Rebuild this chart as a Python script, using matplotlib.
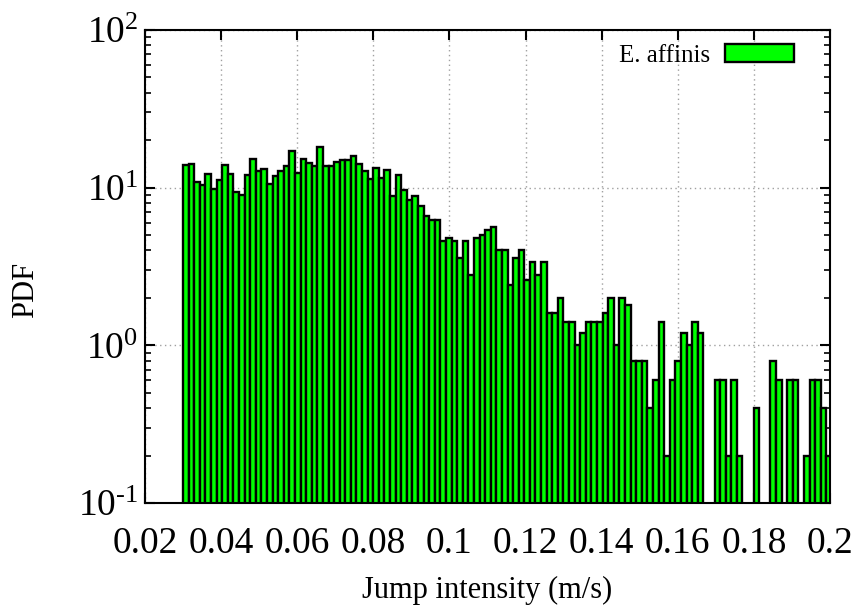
import numpy as np
import matplotlib
matplotlib.use("Agg")
import matplotlib.pyplot as plt
from matplotlib.ticker import FixedLocator, LogLocator, NullFormatter
from matplotlib.patches import Patch

# ---- data ----
bin_start = 0.0300
bin_width = 0.00147
pdf_values = [
    14.0, 14.2, 10.8, 10.4, 12.2, 9.8, 11.2, 14.0, 12.2, 9.4,
    9.0, 12.0, 15.2, 12.8, 13.2, 10.6, 11.8, 12.8, 13.8, 17.0,
    12.4, 15.2, 14.4, 13.8, 18.2, 13.8, 13.8, 14.6, 15.0, 15.0,
    15.8, 14.2, 12.8, 11.4, 13.4, 11.6, 13.0, 8.8, 12.0, 9.6,
    8.4, 8.8, 7.6, 6.6, 6.2, 6.2, 4.6, 4.8, 4.6, 3.6,
    4.6, 2.8, 4.8, 5.0, 5.4, 5.6, 4.0, 4.0, 2.4, 3.6,
    4.0, 2.6, 3.4, 2.8, 3.4, 1.6, 1.6, 2.0, 1.4, 1.4,
    1.0, 1.2, 1.4, 1.4, 1.4, 1.6, 2.0, 1.0, 2.0, 1.8,
    0.8, 0.8, 0.8, 0.4, 0.6, 1.4, 0.2, 0.6, 0.8, 1.2,
    1.0, 1.4, 1.2, 0.0, 0.0, 0.6, 0.6, 0.2, 0.6, 0.2,
    0.0, 0.0, 0.4, 0.0, 0.0, 0.8, 0.6, 0.0, 0.6, 0.6,
    0.0, 0.2, 0.6, 0.6, 0.4, 0.2,
]
x_ticks = [0.02, 0.04, 0.06, 0.08, 0.10, 0.12, 0.14, 0.16, 0.18, 0.20]
x_tick_labels = ["0.02", "0.04", "0.06", "0.08", "0.1", "0.12", "0.14", "0.16", "0.18", "0.2"]
y_ticks = [0.1, 1, 10, 100]
y_tick_labels = [r"$10^{\text{-}1}$", r"$10^{0}$", r"$10^{1}$", r"$10^{2}$"]
series_label = "E. affinis"
x_label = "Jump intensity (m/s)"
y_label = "PDF"

# ---- style ----
plt.rcParams["font.family"] = ["Liberation Serif", "DejaVu Serif"]
plt.rcParams["mathtext.fontset"] = "custom"
plt.rcParams["mathtext.rm"] = "Liberation Serif"
plt.rcParams["mathtext.it"] = "Liberation Serif:italic"

fig = plt.figure(figsize=(8.59, 6.09), dpi=100)
W, H = 859, 609
L, R, T, B = 145, 830, 30, 503
ax = fig.add_axes([L / W, 1 - B / H, (R - L) / W, (B - T) / H])

vals = np.array(pdf_values)
lefts = bin_start + np.arange(len(vals)) * bin_width
mask = vals > 0
floor = 1e-3
ax.bar(lefts[mask], vals[mask] - floor, width=bin_width, bottom=floor, align="edge",
       color="#00ff00", edgecolor="black", linewidth=1.7, zorder=2)

ax.set_yscale("log")
ax.set_xlim(0.02, 0.2)
ax.set_ylim(0.1, 100)

ax.xaxis.set_major_locator(FixedLocator(x_ticks))
ax.set_xticklabels(x_tick_labels)
ax.yaxis.set_major_locator(FixedLocator(y_ticks))
ax.set_yticklabels(y_tick_labels)
ax.yaxis.set_minor_locator(LogLocator(base=10, subs=np.arange(2, 10)))
ax.yaxis.set_minor_formatter(NullFormatter())

ax.tick_params(axis="both", which="major", direction="in", length=7, width=1.5,
               top=True, right=True, labelsize=27)
ax.tick_params(axis="x", which="major", pad=17)
ax.tick_params(axis="y", which="major", pad=5)
ax.tick_params(axis="y", which="minor", direction="in", length=4, width=1.2,
               left=True, right=True)

for s in ax.spines.values():
    s.set_linewidth(1.5)
    s.set_zorder(5)

ax.grid(True, which="major", linestyle=(0, (1, 2.5)), color="#a0a0a0", linewidth=1.0, zorder=0)
ax.set_axisbelow(True)

ax.set_xlabel(x_label, fontsize=22)
ax.set_ylabel(y_label, fontsize=22)
ax.xaxis.set_label_coords(0.5, (B - 590) / (B - T), transform=ax.transAxes)
ax.yaxis.set_label_coords((26 - L) / (R - L), (B - 290) / (B - T), transform=ax.transAxes)
ax.xaxis.label.set_va("center")
ax.yaxis.label.set_va("center")

handle = Patch(facecolor="#00ff00", edgecolor="black", linewidth=1.7)
leg = ax.legend([handle], [series_label], loc="upper right",
                bbox_to_anchor=((794 - L) / (R - L), (B - 44) / (B - T)),
                frameon=False, markerfirst=False, fontsize=18,
                handlelength=2.75, handleheight=0.72, handletextpad=0.6,
                borderpad=0, borderaxespad=0)

fig.savefig("out.png", dpi=100)
